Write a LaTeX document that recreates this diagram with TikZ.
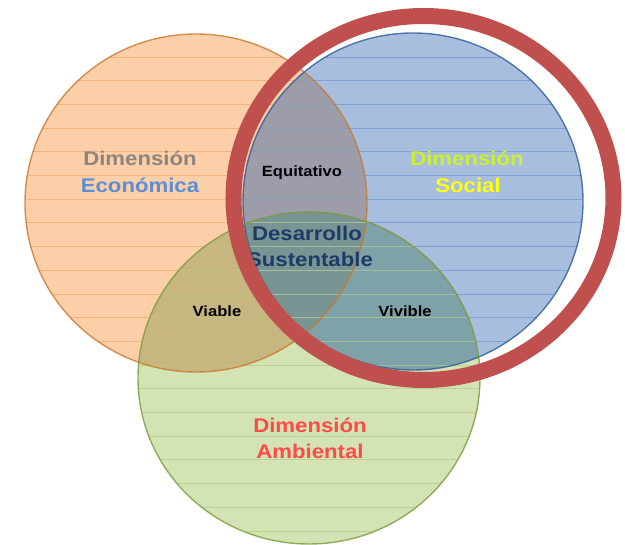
\documentclass[tikz,border=0pt]{standalone}
\usepackage{fontspec}
\setmainfont{Liberation Sans}
\definecolor{ofill}{HTML}{FCCFA8}
\definecolor{ostripe}{HTML}{F3A766}
\definecolor{oline}{HTML}{C8782E}
\definecolor{bfill}{HTML}{A7BEDF}
\definecolor{bstripe}{HTML}{6F95CE}
\definecolor{bline}{HTML}{2F5B98}
\definecolor{gfill}{HTML}{D4E3B4}
\definecolor{gstripe}{HTML}{B3CD86}
\definecolor{gline}{HTML}{7A9A3C}
\definecolor{obfill}{HTML}{9D9DAA}
\definecolor{ogfill}{HTML}{C7B67F}
\definecolor{bgfill}{HTML}{7FA1A8}
\definecolor{obgfill}{HTML}{799593}
\definecolor{ringred}{HTML}{C0504D}
\definecolor{econgrey}{HTML}{8D8480}
\definecolor{econblue}{HTML}{5B8ED6}
\definecolor{socgreen}{HTML}{CCF030}
\definecolor{socyellow}{HTML}{FFFF10}
\definecolor{navy}{HTML}{1F3A68}
\definecolor{ambred}{HTML}{FF4A4A}
\tikzset{
  big/.style={anchor=base, inner sep=0pt, font=\bfseries\fontsize{19.8}{22}\selectfont},
  small/.style={anchor=base, inner sep=0pt, font=\bfseries\fontsize{14.8}{17}\selectfont},
  stripe/.style={line width=0.8pt}
}
\newcommand{\wide}[1]{\scalebox{1.12}[1]{#1}}
\newcommand{\pathO}{(196,203) ellipse [x radius=171pt, y radius=169pt]}
\newcommand{\pathB}{(413,201.5) ellipse [x radius=170pt, y radius=168.5pt]}
\newcommand{\pathG}{(309,378) ellipse [x radius=171pt, y radius=166pt]}
\begin{document}
\begin{tikzpicture}[x=1pt,y=-1pt]
\useasboundingbox (0,0) rectangle (625,545);
% base fills
\fill[ofill] \pathO;
\fill[bfill] \pathB;
\fill[gfill] \pathG;
% overlaps
\begin{scope}\clip \pathO; \fill[obfill] \pathB; \end{scope}
\begin{scope}\clip \pathO; \fill[ogfill] \pathG; \end{scope}
\begin{scope}\clip \pathB; \fill[bgfill] \pathG; \end{scope}
\begin{scope}\clip \pathO; \clip \pathB; \fill[obgfill] \pathG; \end{scope}
% stripes
\begin{scope}\clip \pathO;
  \foreach \k in {0,...,20} \draw[stripe, ostripe, opacity=0.7] (0,{57+23.7*\k}) -- (625,{57+23.7*\k});
\end{scope}
\begin{scope}\clip \pathB;
  \foreach \k in {0,...,20} \draw[stripe, bstripe, opacity=0.7] (0,{57+23.7*\k}) -- (625,{57+23.7*\k});
\end{scope}
\begin{scope}\clip \pathG;
  \foreach \k in {0,...,20} \draw[stripe, gstripe, opacity=0.7] (0,{57+23.7*\k}) -- (625,{57+23.7*\k});
\end{scope}
% outlines
\draw[oline, line width=1.4pt, opacity=0.8] \pathO;
\draw[bline, line width=1.4pt, opacity=0.8] \pathB;
\draw[gline, line width=1.4pt, opacity=0.8] \pathG;
% labels
\node[big, text=econgrey] (econ1) at (140,166) {\wide{Dimensión}};
\node[big, text=econblue] (econ2) at (140,193) {\wide{Económica}};
\node[small, text=black] (equi) at (302,176.5) {\wide{Equitativo}};
\node[big, text=socgreen] (soc1) at (467,166) {\wide{Dimensión}};
\node[big, text=socyellow] (soc2) at (468,193) {\wide{Social}};
\node[big, text=navy] (des1) at (307,241) {\wide{Desarrollo}};
\node[big, text=navy] (des2) at (310,267) {\wide{Sustentable}};
\node[small, text=black] (via) at (217,317) {\wide{Viable}};
\node[small, text=black] (viv) at (405,317) {\wide{Vivible}};
\node[big, text=ambred] (amb1) at (310,433) {\wide{Dimensión}};
\node[big, text=ambred] (amb2) at (310,459) {\wide{Ambiental}};
% red ring
\draw[ringred, line width=16pt] (423.5,198) ellipse [x radius=190pt, y radius=182pt];
\end{tikzpicture}
\end{document}
